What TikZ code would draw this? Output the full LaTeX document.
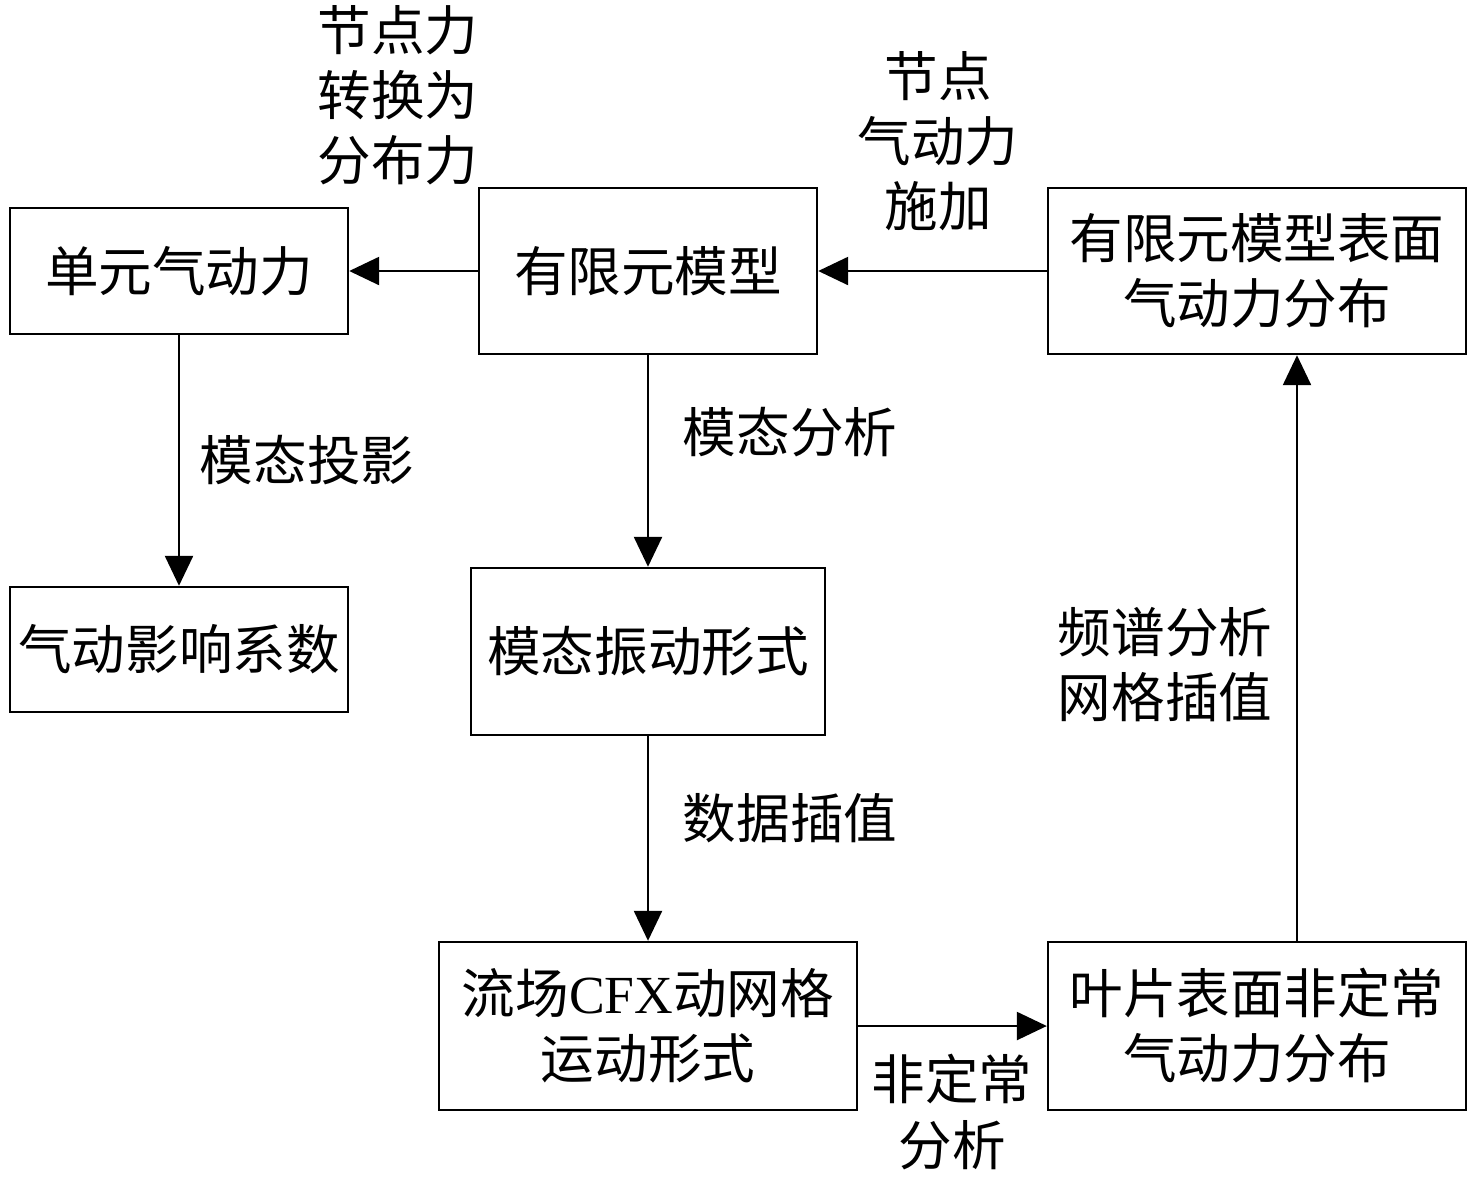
\documentclass[tikz,border=0pt]{standalone}
\usepackage{fontspec}
\setmainfont{Liberation Serif}
\newfontfamily\cjk{Noto Sans CJK SC}
\usetikzlibrary{calc, positioning, arrows.meta}

\begin{document}
\begin{tikzpicture}[
        x=0.02cm, y=-0.02cm,
        % Define styles for consistency
        block/.style={
            rectangle,
            draw=black,
            line width=1.4pt,
            fill=white,
            align=center,
            inner sep=2pt,
            font=\cjk\fontsize{30.5}{37}\selectfont
        },
        tag/.style={
            align=center,
            inner sep=0pt,
            font=\cjk\fontsize{30.5}{37}\selectfont
        },
        line/.style={
            draw,
            line width=1.4pt,
            -{Triangle[length=0.6cm, width=0.56cm]}
        }
    ]

    % page frame
    \useasboundingbox (0,0) rectangle (1476,1181);

    % --- TOP ROW ---
    \node[block, minimum width=6.76cm, minimum height=2.52cm] (elem) at (179,271) {单元气动力};
    \node[block, minimum width=6.76cm, minimum height=3.32cm] (fem) at (648,271) {有限元模型};
    \node[block, minimum width=8.36cm, minimum height=3.32cm] (surf) at (1257,271) {有限元模型表面\\气动力分布};

    % --- MIDDLE ROW ---
    \node[block, minimum width=6.76cm, minimum height=2.5cm] (coef) at (179,649.5) {气动影响系数};
    \node[block, minimum width=7.08cm, minimum height=3.34cm] (mode) at (648,651.5) {模态振动形式};

    % --- BOTTOM ROW ---
    \node[block, minimum width=8.36cm, minimum height=3.36cm] (cfx) at (648,1026) {流场{\rmfamily CFX}动网格\\运动形式};
    \node[block, minimum width=8.36cm, minimum height=3.36cm] (blade) at (1257,1026) {叶片表面非定常\\气动力分布};

    % Connections
    \draw[line] (fem) -- (elem);
    \draw[line] (surf) -- (fem);
    \draw[line] (elem) -- (coef);
    \draw[line] (fem) -- (mode);
    \draw[line] (mode) -- (cfx);
    \draw[line] (cfx) -- (blade);

    % Right side goes up, off centre
    \coordinate (up) at ([xshift=0.8cm]blade.north);
    \draw[line] (up) -- (up |- surf.south);

    % Annotations
    \node[tag] (t1) at (398,95) {节点力\\转换为\\分布力};
    \node[tag] (t2) at (938,141) {节点\\气动力\\施加};
    \node[tag] (t3) at (307,460) {模态投影};
    \node[tag] (t4) at (790,432) {模态分析};
    \node[tag] (t5) at (790,818) {数据插值};
    \node[tag] (t6) at (1165,665) {频谱分析\\网格插值};
    \node[tag] (t7) at (952,1112) {非定常\\分析};

\end{tikzpicture}
\end{document}
